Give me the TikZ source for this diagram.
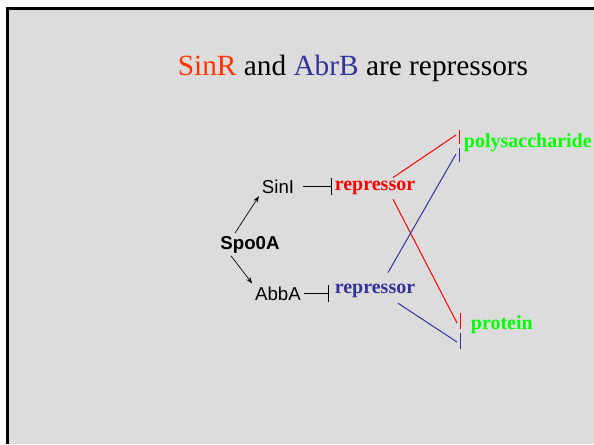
\documentclass[tikz,border=0pt]{standalone}
\usepackage{fontspec}
\setmainfont{Liberation Serif}
\setsansfont{Liberation Sans}
\usetikzlibrary{calc,arrows.meta}
\definecolor{slidebg}{RGB}{220,220,220}
\definecolor{sinred}{RGB}{255,51,0}
\definecolor{repred}{RGB}{255,0,0}
\definecolor{abrblue}{RGB}{51,51,153}
\definecolor{prodgreen}{RGB}{0,255,0}
\tikzset{
	gene/.style={draw=none,anchor=base,inner sep=2pt,font=\sffamily\fontsize{14}{16}\selectfont},
	master/.style={gene,font=\sffamily\bfseries\fontsize{14}{16}\selectfont},
	rep/.style={draw=none,anchor=base,inner sep=2pt,font=\bfseries\fontsize{15}{18}\selectfont},
	product/.style={rep,anchor=base west,text=prodgreen},
	headline/.style={anchor=base,font=\fontsize{22}{26}\selectfont},
	directed/.style={arrows={-Stealth[length=5pt,width=3.5pt]},line width=0.5pt},
	inhibit/.style={arrows={-Bar[width=12.5pt]},line width=0.6pt},
	redline/.style={draw=repred,line width=0.75pt},
	blueline/.style={draw=abrblue,line width=0.75pt}
	}

\begin{document}
\begin{tikzpicture}[x=0.75pt,y=-0.75pt]
		\useasboundingbox (0,0) rectangle (594,444);
		\fill[white] (0,0) rectangle (594,444);
		\fill[slidebg] (7.5,8) rectangle (594,444);
		\draw[line width=2.25pt] (7.5,444) -- (7.5,8) -- (594,8);

		\node[headline] (title) at (353,75) {\textcolor{sinred}{SinR} and \textcolor{abrblue}{AbrB} are repressors};

		\node[master] (spo) at (250,249) {Spo0A};
		\node[gene] (sinI) at (278,193) {SinI};
		\node[gene] (abbA) at (278,300) {AbbA};
		\node[rep,text=repred] (repR) at (375,190) {repressor};
		\node[rep,text=abrblue] (repB) at (375,293) {repressor};
		\node[product] (poly) at (461,147) {polysaccharide};
		\node[product] (prot) at (468,329) {protein};

		\coordinate (pR) at (459,137);
		\coordinate (pB) at (459,155);
		\coordinate (qR) at (460,321);
		\coordinate (qB) at (460,341);

		\draw[directed] ([shift={(-15,0)}]spo.north) -- (sinI.south west);
		\draw[directed] ([shift={(-19,0)}]spo.south) -- (abbA.north west);
		\draw[inhibit,shorten <=4.5pt] (sinI.east) -- (sinI.east -| repR.west);
		\draw[inhibit,shorten >=2.25pt] (abbA.east) -- (abbA.east -| repB.west);

		\draw[redline] ([shift={(18,0)}]repR.north) -- ([shift={(-3,-2)}]pR);
		\draw[redline] ([shift={(18,2)}]repR.south) -- ([shift={(-3,2)}]qR);
		\draw[blueline] ([shift={(13,-8)}]repB.north) -- ([shift={(-3,-1)}]pB);
		\draw[blueline] ([shift={(23,3)}]repB.south) -- ([shift={(-3,1)}]qB);
		%\draw[redline] (repR) -- (poly);
		\draw[redline] (pR) ++(0,-7) -- ++(0,14);
		\draw[blueline] (pB) ++(0,-7) -- ++(0,14);
		\draw[redline] (qR) ++(0,-8) -- ++(0,16);
		\draw[blueline] (qB) ++(0,-8) -- ++(0,16);
	\end{tikzpicture}
\end{document}
